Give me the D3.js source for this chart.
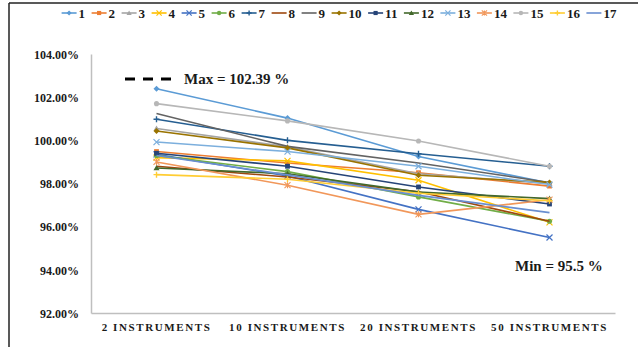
<!DOCTYPE html>
<html>
<head>
<meta charset="utf-8">
<script src="https://cdn.jsdelivr.net/npm/d3@7"></script>
<style>
  html, body { margin: 0; padding: 0; background: #fff; }
  svg { display: block; }
  text { font-family: "Liberation Serif", "Times New Roman", serif; font-weight: bold; fill: #1a1a1a; }
</style>
</head>
<body>
<svg id="chart" width="638" height="347"></svg>
<script>
// Accuracy (%) per instrument count, one series per run
const categories = ["2 INSTRUMENTS", "10 INSTRUMENTS", "20 INSTRUMENTS", "50 INSTRUMENTS"];
const seriesNames = ["1","2","3","4","5","6","7","8","9","10","11","12","13","14","15","16","17"];
const s1  = [102.39, 101.03, 99.25, 98.02];
const s2  = [99.48, 98.95, 98.50, 97.88];
const s3  = [100.55, 99.70, 98.45, 98.00];
const s4  = [99.20, 99.05, 98.15, 96.20];
const s5  = [99.35, 98.35, 96.80, 95.50];
const s6  = [99.30, 98.55, 97.38, 96.25];
const s7  = [100.98, 100.00, 99.38, 98.80];
const s8  = [98.80, 98.30, 97.62, 96.25];
const s9  = [101.24, 99.72, 98.95, 98.05];
const s10 = [100.43, 99.65, 98.38, 98.05];
const s11 = [99.40, 98.80, 97.84, 97.05];
const s12 = [98.72, 98.45, 97.60, 97.30];
const s13 = [99.92, 99.48, 98.80, 97.95];
const s14 = [99.00, 97.92, 96.57, 97.25];
const s15 = [101.70, 100.90, 99.97, 98.80];
const s16 = [98.41, 98.20, 97.55, 97.20];
const s17 = [99.30, 98.40, 97.45, 96.65];
const yTicks = [92, 94, 96, 98, 100, 102, 104];
const maxLabel = "Max = 102.39 %";
const minLabel = "Min = 95.5 %";

const allSeries = [s1,s2,s3,s4,s5,s6,s7,s8,s9,s10,s11,s12,s13,s14,s15,s16,s17];
const colors = ["#5B9BD5","#ED7D31","#A5A5A5","#FFC000","#4472C4","#70AD47","#255E91","#9E480E",
                "#636363","#997300","#264478","#43682B","#7CAFDD","#F1975A","#B7B7B7","#FFCD33","#698ED0"];
const markers = ["diamond","square","triangle","x","x","circle","plus","none",
                 "none","diamond","square","triangle","x","star","circle","plus","none"];

const svg = d3.select("#chart");

// outer frame (top and left edges)
svg.append("line").attr("x1", 9).attr("x2", 638).attr("y1", 3).attr("y2", 3)
  .attr("stroke", "#222").attr("stroke-width", 1.5);
svg.append("line").attr("x1", 9).attr("x2", 9).attr("y1", 3).attr("y2", 347)
  .attr("stroke", "#222").attr("stroke-width", 1.5);

const plot = { left: 91, right: 615, top: 54, bottom: 313 };

const x = d3.scaleBand().domain(categories).range([plot.left, plot.right]);
const y = d3.scaleLinear().domain([92, 104]).range([plot.bottom, plot.top]);
const cx = c => x(c) + x.bandwidth() / 2;

// y axis
const yAxis = svg.append("g").attr("transform", `translate(${plot.left},0)`)
  .call(d3.axisLeft(y).tickValues(yTicks).tickSize(0).tickPadding(12)
        .tickFormat(d => d.toFixed(2) + "%"));
yAxis.select(".domain").attr("stroke", "#BFBFBF").attr("stroke-width", 1.5);
yAxis.selectAll("text").style("font-size", "12px").attr("dy", "0.35em")
  .style("font-family", "'Liberation Serif', serif").style("font-weight", "bold").attr("fill", "#1a1a1a");

// x axis
const xAxis = svg.append("g").attr("transform", `translate(0,${plot.bottom})`)
  .call(d3.axisBottom(x).tickSize(0).tickPadding(10));
xAxis.select(".domain").attr("stroke", "#BFBFBF").attr("stroke-width", 1.5);
xAxis.selectAll("text").style("font-size", "11px").style("letter-spacing", "1.6px")
  .style("font-family", "'Liberation Serif', serif").style("font-weight", "bold").attr("fill", "#1a1a1a");

// marker shapes
function drawMarker(g, type, color, px, py, s) {
  if (type === "none") return;
  if (type === "diamond") {
    g.append("path").attr("d", `M${px},${py-s}L${px+s},${py}L${px},${py+s}L${px-s},${py}Z`).attr("fill", color);
  } else if (type === "square") {
    g.append("rect").attr("x", px - s*0.8).attr("y", py - s*0.8).attr("width", s*1.6).attr("height", s*1.6).attr("fill", color);
  } else if (type === "triangle") {
    g.append("path").attr("d", `M${px},${py-s}L${px+s},${py+s*0.8}L${px-s},${py+s*0.8}Z`).attr("fill", color);
  } else if (type === "circle") {
    g.append("circle").attr("cx", px).attr("cy", py).attr("r", s*0.85).attr("fill", color);
  } else if (type === "x") {
    g.append("path").attr("d", `M${px-s},${py-s}L${px+s},${py+s}M${px-s},${py+s}L${px+s},${py-s}`)
      .attr("stroke", color).attr("stroke-width", 1.2).attr("fill", "none");
  } else if (type === "plus") {
    g.append("path").attr("d", `M${px-s},${py}L${px+s},${py}M${px},${py-s}L${px},${py+s}`)
      .attr("stroke", color).attr("stroke-width", 1.4).attr("fill", "none");
  } else if (type === "star") {
    g.append("path").attr("d", `M${px-s},${py-s}L${px+s},${py+s}M${px-s},${py+s}L${px+s},${py-s}M${px},${py-s}L${px},${py+s}`)
      .attr("stroke", color).attr("stroke-width", 1.1).attr("fill", "none");
  }
}

// series lines and markers
const line = d3.line().x((d, i) => cx(categories[i])).y(d => y(d));
allSeries.forEach((vals, k) => {
  const g = svg.append("g");
  g.append("path").datum(vals).attr("d", line).attr("fill", "none")
    .attr("stroke", colors[k]).attr("stroke-width", 1.6);
  vals.forEach((v, i) => drawMarker(g, markers[k], colors[k], cx(categories[i]), y(v), 3));
});

// legend
const legend = svg.append("g");
let lx = 0;
seriesNames.forEach((name, k) => {
  const item = legend.append("g").attr("transform", `translate(${lx},0)`);
  item.append("line").attr("x1", 0).attr("x2", 15).attr("y1", 0).attr("y2", 0)
    .attr("stroke", colors[k]).attr("stroke-width", 1.6);
  drawMarker(item, markers[k], colors[k], 7.5, 0, 2.6);
  const t = item.append("text").attr("x", 17).attr("y", 0).attr("dy", "0.35em")
    .style("font-size", "13px").text(name);
  lx += 17 + t.node().getComputedTextLength() + 6.5;
});
const legendWidth = lx - 6.5;
legend.attr("transform", `translate(${339 - legendWidth / 2},13)`);

// extreme-value annotations
svg.append("line").attr("x1", 125).attr("x2", 175).attr("y1", 79).attr("y2", 79)
  .attr("stroke", "#000").attr("stroke-width", 3).attr("stroke-dasharray", "10,8");
svg.append("text").attr("x", 184).attr("y", 84).style("font-size", "15px").attr("fill", "#000").text(maxLabel);
svg.append("text").attr("x", 515).attr("y", 271).style("font-size", "15px").attr("fill", "#000").text(minLabel);
</script>
</body>
</html>
